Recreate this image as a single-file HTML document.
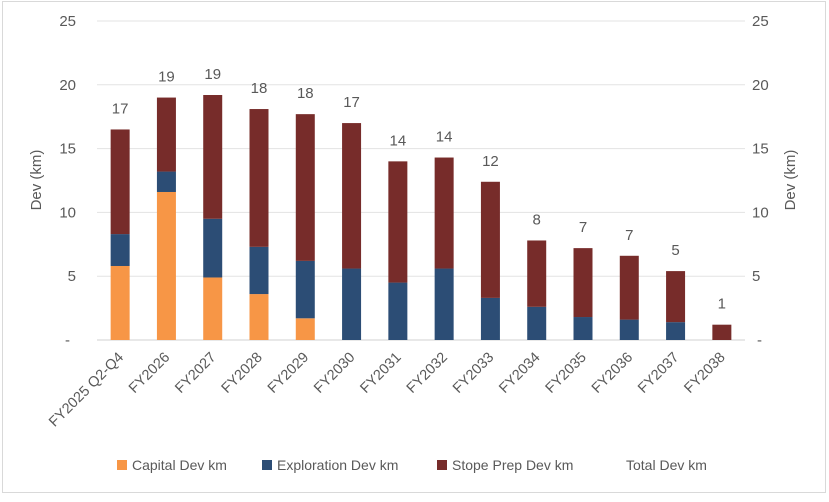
<!DOCTYPE html>
<html><head><meta charset="utf-8"><style>
body{margin:0;background:#fff;font-family:"Liberation Sans",sans-serif}
svg text{font-family:"Liberation Sans",sans-serif;fill:#595959}
</style></head><body>
<svg width="829" height="497" xmlns="http://www.w3.org/2000/svg">
<rect x="2.5" y="1.5" width="823" height="491" fill="#fff" stroke="#d9d9d9"/>
<g id="grid"></g><g id="bars"></g><g id="labels"></g>
<text x="41" y="180" font-size="15" transform="rotate(-90 41 180)" text-anchor="middle">Dev (km)</text>
<text x="795" y="180" font-size="15" transform="rotate(-90 795 180)" text-anchor="middle">Dev (km)</text>
<g font-size="14">
<rect x="117" y="460" width="10" height="10" fill="#F79646"/>
<text x="132" y="470">Capital Dev km</text>
<rect x="262" y="460" width="10" height="10" fill="#2C4D75"/>
<text x="277" y="470">Exploration Dev km</text>
<rect x="437" y="460" width="10" height="10" fill="#772C2A"/>
<text x="452" y="470">Stope Prep Dev km</text>
<text x="626" y="470">Total Dev km</text>
</g>
</svg>
<script>
const categories=["FY2025 Q2-Q4","FY2026","FY2027","FY2028","FY2029","FY2030","FY2031","FY2032","FY2033","FY2034","FY2035","FY2036","FY2037","FY2038"];
const capital=[5.8,11.6,4.9,3.6,1.7,0,0,0,0,0,0,0,0,0];
const exploration=[2.5,1.6,4.6,3.7,4.5,5.6,4.5,5.6,3.3,2.6,1.8,1.6,1.4,0];
const stope=[8.2,5.8,9.7,10.8,11.5,11.4,9.5,8.7,9.1,5.2,5.4,5.0,4.0,1.2];
const totalLabels=["17","19","19","18","18","17","14","14","12","8","7","7","5","1"];
const yTicks=[0,5,10,15,20,25];
const ns="http://www.w3.org/2000/svg";
const x0=97,x1=745,yb=340,yt=21,ymax=25;
const band=(x1-x0)/categories.length;
const X=i=>x0+band*(i+0.5);
const Y=v=>yb-(v/ymax)*(yb-yt);
function mk(t,a,p){const e=document.createElementNS(ns,t);for(const k in a)e.setAttribute(k,a[k]);p.appendChild(e);return e;}
const grid=document.getElementById('grid'),bars=document.getElementById('bars'),labels=document.getElementById('labels');
yTicks.forEach(v=>{
 const l=mk('line',{x1:x0,x2:x1,y1:Y(v),y2:Y(v),stroke:v===0?'#d0d0d0':'#e3e3e3','stroke-width':1},grid);
 
 
 const s=v===0?'-':String(v);
 const a=mk('text',{x:v===0?70:76,y:Y(v)+5,'font-size':15,'text-anchor':'end'},grid);a.textContent=s;
 
 
 const b=mk('text',{x:v===0?757:752,y:Y(v)+5,'font-size':15,'text-anchor':'start'},grid);b.textContent=s;
 
 
});
const bw=19;
categories.forEach((c,i)=>{
 let base=0;
 [[capital,'#F79646','capital'],[exploration,'#2C4D75','exploration'],[stope,'#772C2A','stope']].forEach(([arr,col,nm])=>{
  const v=arr[i];if(v>0){
   const r=mk('rect',{x:X(i)-bw/2,y:Y(base+v),width:bw,height:Y(base)-Y(base+v),fill:col},bars);
   
   
  }
  base+=v;
 });
 const t=mk('text',{x:X(i),y:Y(base)-16,'font-size':15,'text-anchor':'middle'},labels);t.textContent=totalLabels[i];
 
 
 const lx=X(i)+4,ly=358;
 const xl=mk('text',{x:lx,y:ly,'font-size':14.5,'text-anchor':'end',transform:`rotate(-45 ${lx} ${ly})`},labels);xl.textContent=c;
 
 
});
</script>
</body></html>
